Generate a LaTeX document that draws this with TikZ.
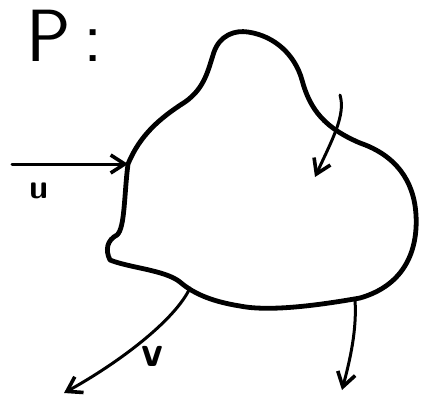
\documentclass[tikz,border=0pt]{standalone}
\usetikzlibrary{arrows.meta}

\tikzset{
  blob/.style={line width=2.4pt, line cap=round, line join=round},
  flow/.style={line width=1.5pt, line cap=round,
    -{Straight Barb[length=7pt, width=9pt, line width=1.8pt]}},
  lbl/.style={inner sep=0pt, font=\sffamily}
}

\begin{document}
\begin{tikzpicture}[x=0.5pt,y=0.5pt,yscale=-1,xscale=1]
\useasboundingbox (0,0) rectangle (423,403);

% --- the region P ---
\draw [blob] (128,164) .. controls (140,135) and (160,118) .. (185,102)
    .. controls (205,88) and (208,70) .. (214,52)
    .. controls (220,35) and (235,30) .. (248,32)
    .. controls (275,36) and (295,55) .. (302,80)
    .. controls (310,110) and (325,128) .. (360,143)
    .. controls (395,155) and (414,180) .. (416,215)
    .. controls (418,250) and (405,285) .. (360,298)
    .. controls (320,305) and (270,312) .. (240,306)
    .. controls (215,302) and (195,295) .. (180,282)
    .. controls (165,270) and (130,268) .. (110,260)
    .. controls (105,250) and (107,240) .. (117,235)
    .. controls (125,228) and (124,195) .. (128,164) -- cycle;

% --- end points of the arrows ---
\coordinate (uin)  at (12,164);
\coordinate (uend) at (128,164);
\coordinate (pin)  at (340,95);
\coordinate (pend) at (315,177);
\coordinate (vout) at (190,288);
\coordinate (vend) at (64,393);
\coordinate (wout) at (355,300);
\coordinate (wend) at (342,390);

\draw [flow] (uin) -- (uend);
\draw [flow] (pin) .. controls (346,115) and (332,140) .. (pend);
\draw [flow] (vout) .. controls (175,320) and (120,362) .. (vend);
\draw [flow] (wout) .. controls (357,330) and (350,360) .. (wend);

% --- labels ---
\node [lbl, anchor=base west, font=\sffamily\fontsize{37}{37}\selectfont] (title) at (26,61) {P\,:};
\node [lbl, font=\sffamily\bfseries\fontsize{17}{17}\selectfont] (ulbl) at (39,191) {u};
\node [lbl, font=\sffamily\bfseries\fontsize{22}{22}\selectfont] (vlbl) at (152,356) {v};

\end{tikzpicture}
\end{document}
